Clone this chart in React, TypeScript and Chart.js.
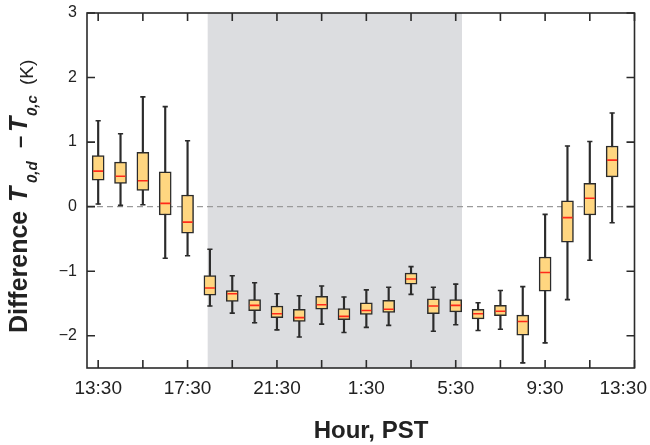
import React, { useEffect, useRef } from 'react';
import { Chart, registerables } from 'chart.js';

Chart.register(...registerables);

// ---- data (hours counted from 13:30 PST) ----
const hourLabels = ['13:30', '14:30', '15:30', '16:30', '17:30', '18:30', '19:30', '20:30', '21:30', '22:30', '23:30', '0:30',
  '1:30', '2:30', '3:30', '4:30', '5:30', '6:30', '7:30', '8:30', '9:30', '10:30', '11:30', '12:30'];
const hourOffsets = [0, 1, 2, 3, 4, 5, 6, 7, 8, 9, 10, 11, 12, 13, 14, 15, 16, 17, 18, 19, 20, 21, 22, 23];
const whiskerHigh = [1.33, 1.13, 1.70, 1.55, 1.02, -0.66, -1.07, -1.18, -1.35, -1.38, -1.23, -1.40,
  -1.29, -1.25, -0.93, -1.25, -1.20, -1.49, -1.30, -1.24, -0.12, 0.94, 1.01, 1.45];
const q3 = [0.79, 0.69, 0.84, 0.54, 0.18, -1.07, -1.30, -1.44, -1.54, -1.59, -1.39, -1.58,
  -1.49, -1.45, -1.03, -1.43, -1.44, -1.59, -1.53, -1.68, -0.78, 0.09, 0.36, 0.94];
const median = [0.55, 0.47, 0.40, 0.05, -0.24, -1.26, -1.35, -1.53, -1.66, -1.72, -1.52, -1.70,
  -1.61, -1.59, -1.12, -1.54, -1.53, -1.66, -1.62, -1.78, -1.02, -0.17, 0.13, 0.72];
const q1 = [0.41, 0.36, 0.25, -0.13, -0.41, -1.37, -1.47, -1.61, -1.72, -1.78, -1.59, -1.75,
  -1.67, -1.64, -1.20, -1.66, -1.63, -1.74, -1.69, -1.99, -1.31, -0.55, -0.13, 0.46];
const whiskerLow = [0.04, 0.02, 0.03, -0.80, -0.76, -1.54, -1.65, -1.80, -1.91, -2.02, -1.82, -1.95,
  -1.87, -1.84, -1.36, -1.93, -1.83, -1.92, -1.90, -2.42, -2.11, -1.44, -0.83, -0.25];

const xTickValues = [0, 2, 4, 6, 8, 10, 12, 14, 16, 18, 20, 22, 24];
const xTickLabels = ['13:30', '', '17:30', '', '21:30', '', '1:30', '', '5:30', '', '9:30', '', '13:30'];
const yTickValues = [3, 2, 1, 0, -1, -2];
const yTickLabels = ['3', '2', '1', '0', '\u22121', '\u22122'];
const xMin = -0.5;
const xMax = 24;
const yMin = -2.5;
const yMax = 3;
const nightStart = 4.9;
const nightEnd = 16.28;

const FONT = "'Liberation Sans', Arial, Helvetica, sans-serif";
const AXIS = '#2b2b2b';

const decorPlugin = {
  id: 'decor',
  beforeDatasetsDraw(chart: any) {
    const { ctx, chartArea: a, scales } = chart;
    const xs = scales.x, ys = scales.y;
    ctx.save();
    // night shading
    ctx.fillStyle = '#dcdde0';
    const x0 = xs.getPixelForValue(nightStart);
    const x1 = xs.getPixelForValue(nightEnd);
    ctx.fillRect(x0, a.top, x1 - x0, a.bottom - a.top);
    // zero line
    const y0 = ys.getPixelForValue(0);
    ctx.strokeStyle = '#9a9a9a';
    ctx.lineWidth = 1.2;
    ctx.setLineDash([6, 4]);
    ctx.beginPath();
    ctx.moveTo(a.left, y0);
    ctx.lineTo(a.right, y0);
    ctx.stroke();
    ctx.restore();
  },
  afterDraw(chart: any) {
    const { ctx, chartArea: a, scales } = chart;
    const xs = scales.x, ys = scales.y;
    ctx.save();
    ctx.strokeStyle = AXIS;
    ctx.lineWidth = 1.6;
    ctx.setLineDash([]);
    ctx.strokeRect(a.left, a.top, a.right - a.left, a.bottom - a.top);
    const tl = 8;
    ctx.beginPath();
    xTickValues.forEach((v) => {
      const px = xs.getPixelForValue(v);
      ctx.moveTo(px, a.top);
      ctx.lineTo(px, a.top + tl);
      ctx.moveTo(px, a.bottom);
      ctx.lineTo(px, a.bottom - tl);
    });
    yTickValues.forEach((v) => {
      const py = ys.getPixelForValue(v);
      ctx.moveTo(a.left, py);
      ctx.lineTo(a.left + tl, py);
      ctx.moveTo(a.right, py);
      ctx.lineTo(a.right - tl, py);
    });
    ctx.stroke();

    // tick labels
    ctx.fillStyle = '#222';
    ctx.font = `19px ${FONT}`;
    ctx.textAlign = 'center';
    ctx.textBaseline = 'alphabetic';
    const W = chart.width;
    xTickValues.forEach((v, i) => {
      const t = xTickLabels[i];
      if (!t) return;
      let px = xs.getPixelForValue(v);
      const w = ctx.measureText(t).width;
      if (px + w / 2 > W - 3) px = W - 3 - w / 2;
      ctx.fillText(t, px, a.bottom + 26);
    });
    ctx.font = `16px ${FONT}`;
    ctx.textAlign = 'right';
    ctx.textBaseline = 'middle';
    yTickValues.forEach((v, i) => {
      ctx.fillText(yTickLabels[i], a.left - 10, ys.getPixelForValue(v));
    });

    // x title
    ctx.font = `bold 24px ${FONT}`;
    ctx.textAlign = 'center';
    ctx.textBaseline = 'alphabetic';
    ctx.fillText('Hour, PST', 371, 438);

    // y title (rotated, rich text); "at" = screen y where each part starts
    const parts = [
      { text: 'Difference', font: `bold 25px ${FONT}`, at: 333, dy: 0 },
      { text: 'T', font: `italic bold 25px ${FONT}`, at: 202, dy: 0 },
      { text: '0,d', font: `italic bold 15px ${FONT}`, at: 183, dy: 10 },
      { text: '\u2013', font: `bold 22px ${FONT}`, at: 148, dy: 0 },
      { text: 'T', font: `italic bold 25px ${FONT}`, at: 132, dy: 0 },
      { text: '0,c', font: `italic bold 15px ${FONT}`, at: 116, dy: 10 },
      { text: '(K)', font: `19px ${FONT}`, at: 85, dy: 6 },
    ];
    const baseX = 26.5;
    ctx.textAlign = 'left';
    parts.forEach((p) => {
      ctx.save();
      ctx.translate(baseX, p.at);
      ctx.rotate(-Math.PI / 2);
      ctx.font = p.font;
      ctx.fillText(p.text, 0, p.dy);
      ctx.restore();
    });
    ctx.restore();
  },
};

export default function App() {
  const ref = useRef<HTMLCanvasElement | null>(null);
  useEffect(() => {
    if (!ref.current) return;
    const chart = new Chart(ref.current, {
      type: 'bar',
      data: {
        datasets: [
          {
            type: 'bar',
            label: 'whiskers',
            data: hourOffsets.map((h, i) => ({ x: h, y: [whiskerLow[i], whiskerHigh[i]] })) as any,
            backgroundColor: AXIS,
            borderWidth: 0,
            barThickness: 1.5,
            grouped: false,
            order: 3,
          },
          {
            type: 'bar',
            label: 'boxes',
            data: hourOffsets.map((h, i) => ({ x: h, y: [q1[i], q3[i]] })) as any,
            backgroundColor: '#ffd680',
            borderColor: AXIS,
            borderWidth: 1.5,
            borderSkipped: false,
            barThickness: 12,
            grouped: false,
            order: 2,
          },
          {
            type: 'scatter',
            label: 'caps high',
            data: hourOffsets.map((h, i) => ({ x: h, y: whiskerHigh[i] })),
            pointStyle: 'line',
            pointRadius: 2.6,
            pointBorderColor: AXIS,
            pointBorderWidth: 1.6,
            order: 1,
          },
          {
            type: 'scatter',
            label: 'caps low',
            data: hourOffsets.map((h, i) => ({ x: h, y: whiskerLow[i] })),
            pointStyle: 'line',
            pointRadius: 2.6,
            pointBorderColor: AXIS,
            pointBorderWidth: 1.6,
            order: 1,
          },
          {
            type: 'scatter',
            label: 'median',
            data: hourOffsets.map((h, i) => ({ x: h, y: median[i] })),
            pointStyle: 'line',
            pointRadius: 5,
            pointBorderColor: '#ff2a1a',
            pointBorderWidth: 1.6,
            order: 0,
          },
        ] as any,
      },
      options: {
        animation: false,
        responsive: false,
        layout: { padding: { left: 87, top: 13, right: 15.5, bottom: 77 } },
        plugins: { legend: { display: false }, tooltip: { enabled: false } },
        scales: {
          x: { type: 'linear', min: xMin, max: xMax, display: false, offset: false },
          y: { type: 'linear', min: yMin, max: yMax, display: false },
        },
      } as any,
      plugins: [decorPlugin],
    });
    return () => chart.destroy();
  }, []);
  return (
    <div style={{ position: 'absolute', left: 0, top: 0, width: 650, height: 445, background: '#fff' }}>
      <canvas ref={ref} width={650} height={445} />
    </div>
  );
}
